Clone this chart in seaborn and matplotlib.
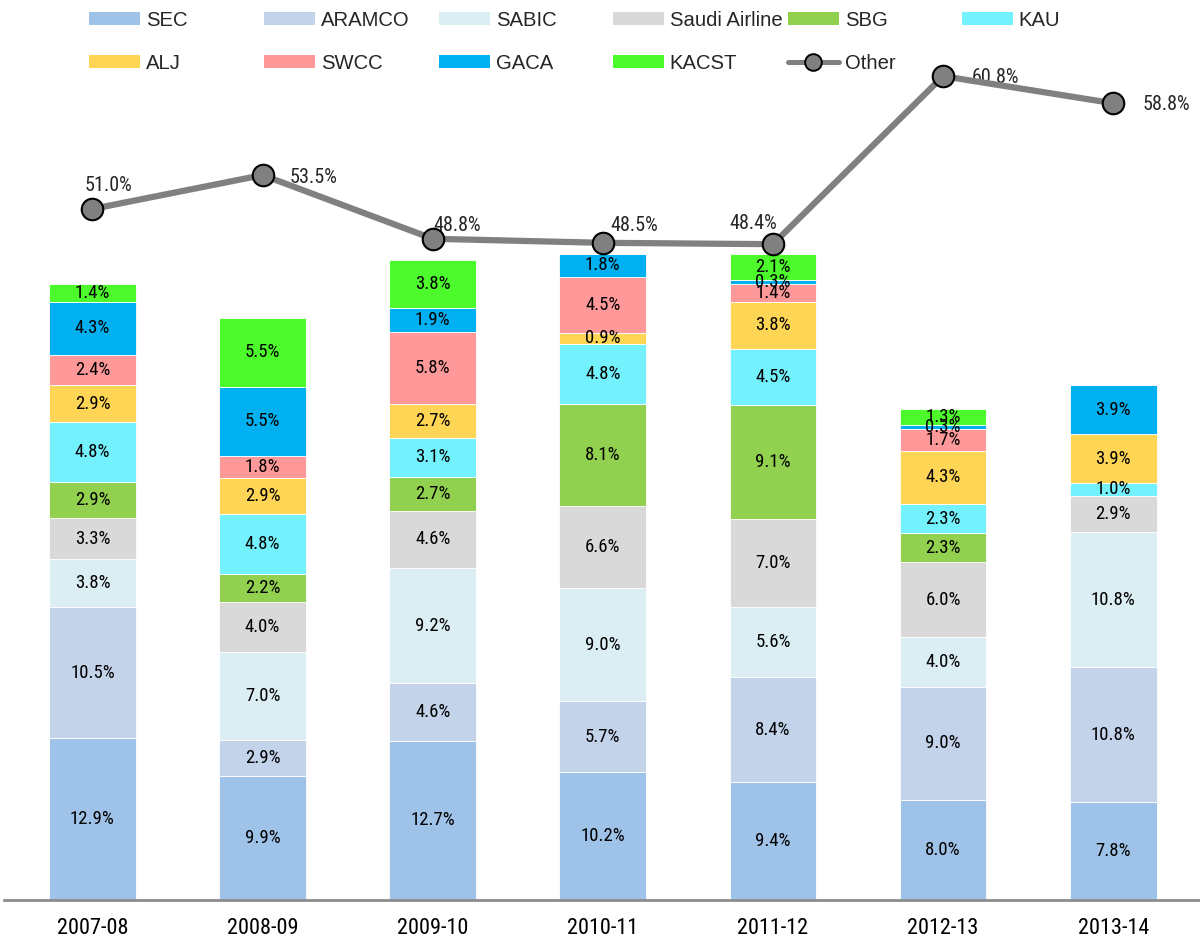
import matplotlib
matplotlib.use("Agg")
import matplotlib.pyplot as plt
import seaborn as sns
import numpy as np
from matplotlib.patches import Patch
from matplotlib.lines import Line2D
from matplotlib import font_manager as fm

years = ["2007-08", "2008-09", "2009-10", "2010-11", "2011-12", "2012-13", "2013-14"]
series_names = ["SEC", "ARAMCO", "SABIC", "Saudi Airline", "SBG", "KAU", "ALJ", "SWCC", "GACA", "KACST"]
SEC = [12.9, 9.9, 12.7, 10.2, 9.4, 8.0, 7.8]
ARAMCO = [10.5, 2.9, 4.6, 5.7, 8.4, 9.0, 10.8]
SABIC = [3.8, 7.0, 9.2, 9.0, 5.6, 4.0, 10.8]
SAUDI_AIRLINE = [3.3, 4.0, 4.6, 6.6, 7.0, 6.0, 2.9]
SBG = [2.9, 2.2, 2.7, 8.1, 9.1, 2.3, 0.0]
KAU = [4.8, 4.8, 3.1, 4.8, 4.5, 2.3, 1.0]
ALJ = [2.9, 2.9, 2.7, 0.9, 3.8, 4.3, 3.9]
SWCC = [2.4, 1.8, 5.8, 4.5, 1.4, 1.7, 0.0]
GACA = [4.3, 5.5, 1.9, 1.8, 0.3, 0.3, 3.9]
KACST = [1.4, 5.5, 3.8, 0.0, 2.1, 1.3, 0.0]
OTHER = [51.0, 53.5, 48.8, 48.5, 48.4, 60.8, 58.8]

series_values = [SEC, ARAMCO, SABIC, SAUDI_AIRLINE, SBG, KAU, ALJ, SWCC, GACA, KACST]
colors = ["#9FC3E8", "#C2D3EA", "#DBEEF4", "#D9D9D9", "#92D050", "#73F1FC",
          "#FFD556", "#FF9999", "#00B0F0", "#4DFA2B"]

NARROW = ["Roboto Condensed", "Liberation Sans", "DejaVu Sans"]
REGULAR = ["Liberation Sans", "DejaVu Sans"]
sns.set_theme(style="white")
plt.rcParams["font.family"] = NARROW

# prefer the static regular file of the condensed face
_paths = [f.fname for f in fm.fontManager.ttflist if f.fname.endswith("RobotoCondensed-Regular.ttf")]


def narrow_fp(size):
    if _paths:
        return fm.FontProperties(fname=_paths[0], size=size)
    return fm.FontProperties(family=NARROW, size=size)


W, H = 1200, 939
fig = plt.figure(figsize=(W / 100, H / 100), dpi=100)
ax = fig.add_axes([4 / W, 39 / H, 1196 / W, 900 / H])

bottom = np.zeros(len(years))
label_fp = narrow_fp(13.5)
for name, vals, col in zip(series_names, series_values, colors):
    vals = np.array(vals)
    sns.barplot(x=years, y=vals, bottom=bottom, color=col, width=0.51,
                edgecolor="white", linewidth=0.6, ax=ax, saturation=1)
    for i, v in enumerate(vals):
        if v > 0:
            ax.text(i, bottom[i] + v / 2, f"{v:.1f}%", ha="center", va="center",
                    fontproperties=label_fp, color="black")
    bottom = bottom + vals

ax.set_xlim(-0.52, 6.51)
ax.set_ylim(0, 900 / 12.52)
ax.set_yticks([])
ax.set_ylabel("")
for s in ["top", "right", "left"]:
    ax.spines[s].set_visible(False)
ax.spines["bottom"].set_color("#8C8C8C")
ax.spines["bottom"].set_linewidth(2)
ax.tick_params(axis="x", length=0, pad=13, labelcolor="black")
tick_fp = narrow_fp(16)
for lbl in ax.get_xticklabels():
    lbl.set_fontproperties(tick_fp)

ax2 = ax.twinx()
ax2.set_position(ax.get_position())
sns.lineplot(x=np.arange(len(years)), y=OTHER, ax=ax2, color="#808080", linewidth=4.5,
             marker="o", markersize=15.5, markerfacecolor="#808080",
             markeredgecolor="black", markeredgewidth=1.5, clip_on=False, zorder=5)
ax2.set_ylim(0, 900 / 13.55)
ax2.set_yticks([])
ax2.set_ylabel("")
for s in ["top", "right", "left", "bottom"]:
    ax2.spines[s].set_visible(False)

# label offsets in pixels (dx, dy, ha)
offsets = [(16, 23, "center"), (27, -2, "left"), (1, 13, "left"), (8, 17, "left"),
           (4, 21, "right"), (29, -1, "left"), (29, -1, "left")]
line_fp = narrow_fp(14.5)
for i, (v, (dx, dy, ha)) in enumerate(zip(OTHER, offsets)):
    ax2.annotate(f"{v:.1f}%", (i, v), xytext=(dx * 0.72, dy * 0.72), textcoords="offset points",
                 ha=ha, va="center", fontproperties=line_fp, annotation_clip=False)

# legend
handles = [Patch(facecolor=c, edgecolor="none") for c in colors]
handles.append(Line2D([0], [0], color="#808080", linewidth=3.6, marker="o", markersize=12,
                      markerfacecolor="#808080", markeredgecolor="black", markeredgewidth=1.4))
labels = series_names + ["Other"]
col_x = [89, 264, 439, 613, 788, 962]
row_y = [20.5, 63.5]
order_pos = [(0, 0), (0, 1), (0, 2), (0, 3), (0, 4), (0, 5),
             (1, 0), (1, 1), (1, 2), (1, 3), (1, 4)]
for h, l, (r, c) in zip(handles, labels, order_pos):
    fig.legend(handles=[h], labels=[l], loc="center left",
               bbox_to_anchor=(col_x[c] / W, 1 - row_y[r] / H),
               frameon=False, borderpad=0, borderaxespad=0,
               handlelength=2.5, handleheight=0.62, handletextpad=0.3,
               prop={"family": REGULAR, "size": 14.6})

fig.savefig("out.png", dpi=100)
